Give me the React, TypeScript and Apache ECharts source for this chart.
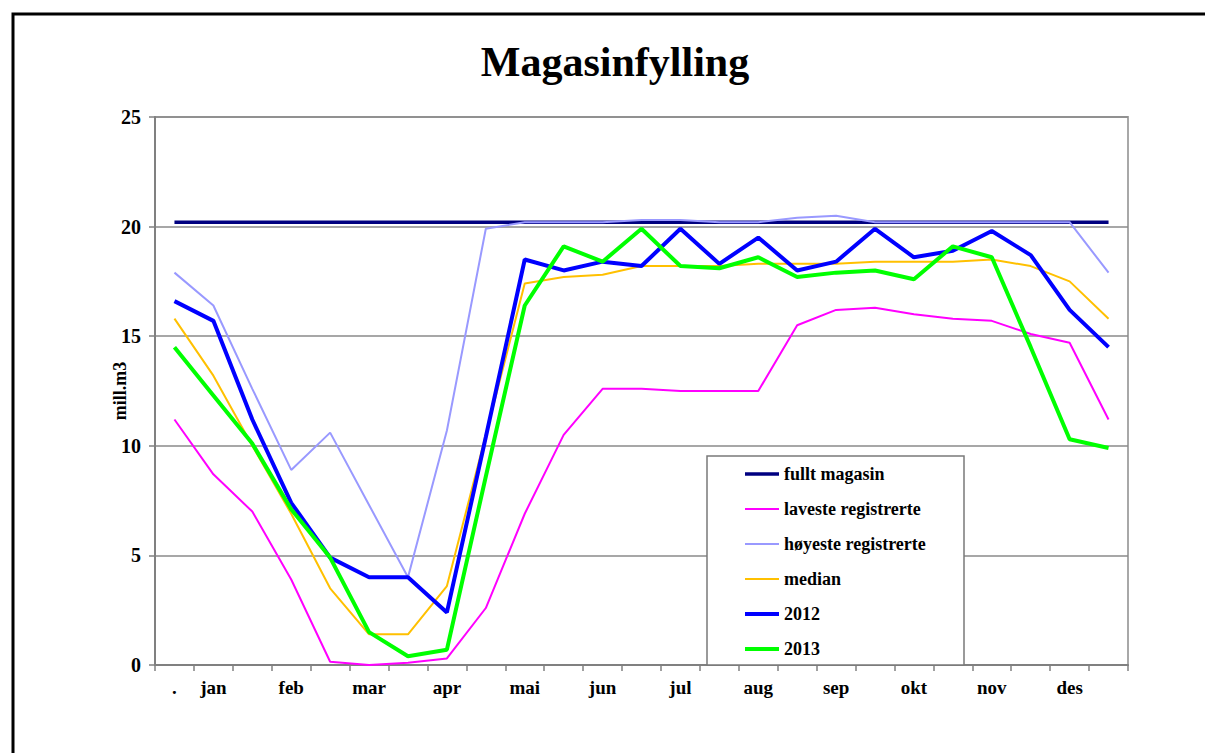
import React, { useEffect, useRef } from "react";
import * as echarts from "echarts";

const periodLabels = [".", "jan", "", "feb", "", "mar", "", "apr", "", "mai", "", "jun", "", "jul", "", "aug", "", "sep", "", "okt", "", "nov", "", "des", ""];

const seriesNames = ["fullt magasin", "laveste registrerte", "høyeste registrerte", "median", "2012", "2013"];

const fulltMagasin = [20.2, 20.2, 20.2, 20.2, 20.2, 20.2, 20.2, 20.2, 20.2, 20.2, 20.2, 20.2, 20.2, 20.2, 20.2, 20.2, 20.2, 20.2, 20.2, 20.2, 20.2, 20.2, 20.2, 20.2, 20.2];
const lavesteRegistrerte = [11.2, 8.7, 7.0, 3.9, 0.15, 0.0, 0.1, 0.3, 2.6, 6.9, 10.5, 12.6, 12.6, 12.5, 12.5, 12.5, 15.5, 16.2, 16.3, 16.0, 15.8, 15.7, 15.1, 14.7, 11.2];
const hoyesteRegistrerte = [17.9, 16.4, 12.6, 8.9, 10.6, 7.3, 4.0, 10.7, 19.9, 20.2, 20.2, 20.2, 20.3, 20.3, 20.2, 20.2, 20.4, 20.5, 20.2, 20.2, 20.2, 20.2, 20.2, 20.2, 17.9];
const median = [15.8, 13.2, 10.0, 6.9, 3.5, 1.4, 1.4, 3.6, 10.5, 17.4, 17.7, 17.8, 18.2, 18.2, 18.2, 18.3, 18.3, 18.3, 18.4, 18.4, 18.4, 18.5, 18.2, 17.5, 15.8];
const year2012 = [16.6, 15.7, 11.2, 7.4, 4.9, 4.0, 4.0, 2.4, 10.4, 18.5, 18.0, 18.4, 18.2, 19.9, 18.3, 19.5, 18.0, 18.4, 19.9, 18.6, 18.9, 19.8, 18.7, 16.2, 14.5];
const year2013 = [14.5, 12.3, 10.1, 7.1, 4.9, 1.5, 0.4, 0.7, 8.6, 16.4, 19.1, 18.4, 19.9, 18.2, 18.1, 18.6, 17.7, 17.9, 18.0, 17.6, 19.1, 18.6, 14.5, 10.3, 9.9];

const yTicks = { min: 0, max: 25, interval: 5 };

const FONT = "'Liberation Serif', 'Times New Roman', serif";

const seriesColors = ["#000080", "#ff00ff", "#9999ff", "#ffc000", "#0000ff", "#00ff00"];
const seriesWidths = [3.5, 2, 2, 2, 4, 4];

export default function App() {
  const ref = useRef<HTMLDivElement>(null);
  useEffect(() => {
    if (!ref.current) return;
    const chart = echarts.init(ref.current, undefined, { renderer: "svg" });
    const datasets = [fulltMagasin, lavesteRegistrerte, hoyesteRegistrerte, median, year2012, year2013];
    const series = seriesNames.map((name, k) => ({
      name,
      type: "line",
      data: datasets[k],
      symbol: "none",
      showSymbol: false,
      lineStyle: { color: seriesColors[k], width: seriesWidths[k] },
      itemStyle: { color: seriesColors[k] },
      emphasis: { disabled: true },
    }));
    chart.setOption({
      animation: false,
      backgroundColor: "#ffffff",
      title: {
        text: "Magasinfylling",
        left: 615,
        textAlign: "center",
        top: 41,
        padding: 0,
        textStyle: { fontFamily: FONT, fontWeight: "bold", fontSize: 42, color: "#000" },
      },
      grid: {
        left: 155,
        top: 117,
        right: 77,
        bottom: 88,
        show: true,
        borderColor: "#a8a8a8",
        borderWidth: 2,
        backgroundColor: "transparent",
      },
      xAxis: {
        type: "category",
        boundaryGap: true,
        data: periodLabels.map((_, i) => String(i)),
        axisLine: { lineStyle: { color: "#808080", width: 2 } },
        axisTick: { show: true, interval: 0, length: 6, lineStyle: { color: "#808080", width: 1.5 } },
        axisLabel: {
          interval: 0,
          margin: 13,
          formatter: (_v: string, i: number) => periodLabels[i],
          fontFamily: FONT,
          fontWeight: "bold",
          fontSize: 19,
          color: "#000",
        },
        splitLine: { show: false },
      },
      yAxis: {
        type: "value",
        min: yTicks.min,
        max: yTicks.max,
        interval: yTicks.interval,
        name: "mill.m3",
        nameLocation: "middle",
        nameRotate: 90,
        nameGap: 26,
        nameMoveOverlap: false,
        nameTextStyle: { fontFamily: FONT, fontWeight: "bold", fontSize: 18, color: "#000" },
        axisLine: { show: true, lineStyle: { color: "#808080", width: 2 } },
        axisTick: { show: true, length: 6, lineStyle: { color: "#808080", width: 1.5 } },
        axisLabel: {
          margin: 14,
          fontFamily: FONT,
          fontWeight: "bold",
          fontSize: 20,
          color: "#000",
        },
        splitLine: { show: true, lineStyle: { color: "#8a8a8a", width: 1.5 } },
      },
      legend: {
        orient: "vertical",
        left: 743,
        top: 465,
        padding: 0,
        itemWidth: 34,
        itemHeight: 14,
        itemGap: 17,
        selectedMode: false,
        itemStyle: { opacity: 0 },
        textStyle: { fontFamily: FONT, fontWeight: "bold", fontSize: 18, color: "#000" },
        data: seriesNames.map((name, k) => ({
          name,
          lineStyle: { width: seriesWidths[k], color: seriesColors[k] },
        })),
      },
      graphic: [
        {
          type: "rect",
          z: 3,
          shape: { x: 707, y: 456, width: 257, height: 209 },
          style: { fill: "#ffffff", stroke: "#7a7a7a", lineWidth: 1.5 },
        },
        {
          type: "rect",
          z: 10,
          shape: { x: 13, y: 14, width: 1300, height: 900 },
          style: { fill: "none", stroke: "#000000", lineWidth: 3 },
        },
      ],
      series,
    });
    return () => chart.dispose();
  }, []);
  return (
    <div
      ref={ref}
      style={{ position: "fixed", left: 0, top: 0, width: 1205, height: 753, background: "#fff" }}
    />
  );
}
